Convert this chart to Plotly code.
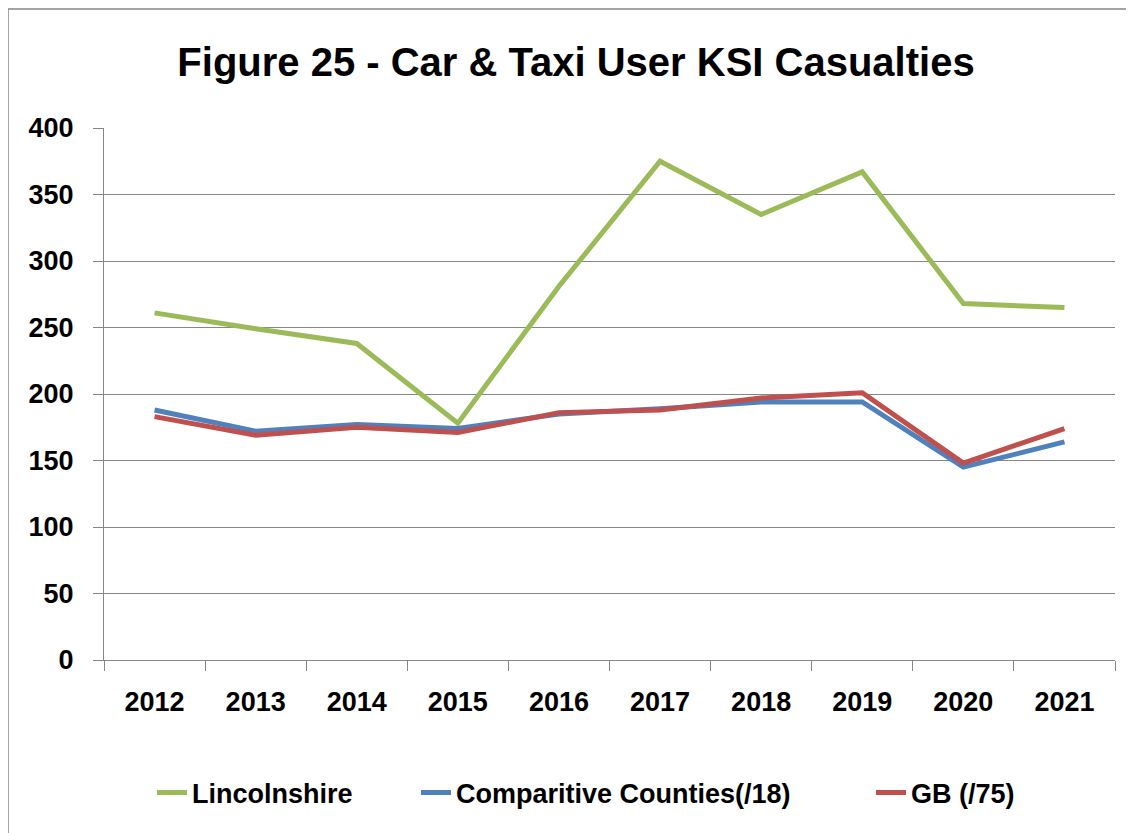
import plotly.graph_objects as go

years = ["2012", "2013", "2014", "2015", "2016", "2017", "2018", "2019", "2020", "2021"]
lincolnshire = [261, 249, 238, 178, 281, 375, 335, 367, 268, 265]
comparative = [188, 172, 177, 174, 185, 189, 194, 194, 145, 164]
gb = [183, 169, 175, 171, 186, 188, 197, 201, 148, 174]

OFF = 8  # page body margin
W, H = 1134 - OFF, 833 - OFF
L, R, T, B = 104 - OFF, 1115 - OFF, 128 - OFF, 660 - OFF

FONT = "Liberation Sans, Arial, sans-serif"
GRID = "#878787"

fig = go.Figure()
fig.add_trace(go.Scatter(x=years, y=lincolnshire, mode="lines", name="<b>Lincolnshire</b>",
                         line=dict(color="#9BBB59", width=5), legend="legend"))
fig.add_trace(go.Scatter(x=years, y=comparative, mode="lines", name="<b>Comparitive Counties(/18)</b>",
                         line=dict(color="#4F81BD", width=5), legend="legend2"))
fig.add_trace(go.Scatter(x=years, y=gb, mode="lines", name="<b>GB (/75)</b>",
                         line=dict(color="#C0504D", width=5), legend="legend3"))

pw, ph = R - L, B - T
fig.add_shape(type="rect", xref="paper", yref="paper",
              x0=(0 - L) / pw, x1=(W + 200 - L) / pw,
              y0=(B - (H + 200)) / ph, y1=(B - 1) / ph,
              line=dict(color="#888888", width=1.5), layer="below")

leg_y = 1 - (793 - OFF) / H


def leg(text_start):
    return dict(orientation="h", x=(text_start - OFF - 42) / W, xref="container", xanchor="left",
                y=leg_y, yref="container", yanchor="middle",
                font=dict(family=FONT, size=27, color="black"),
                bgcolor="rgba(0,0,0,0)")


fig.update_layout(
    width=W, height=H,
    margin=dict(l=L, r=W - R, t=T, b=H - B, pad=0),
    paper_bgcolor="white", plot_bgcolor="white",
    title=dict(text="<b>Figure 25 - Car & Taxi User KSI Casualties</b>",
               x=(576 - OFF) / W, xanchor="center", xref="container",
               y=1 - (62 - OFF) / H, yanchor="middle",
               font=dict(family=FONT, size=40, color="black")),
    showlegend=True,
    legend=leg(194),
    legend2=leg(458),
    legend3=leg(913),
    font=dict(family=FONT, color="black"),
)

fig.update_xaxes(type="category", showgrid=False, showline=True, linecolor=GRID, linewidth=1.3,
                 ticks="outside", tickson="boundaries", ticklen=10, tickcolor=GRID, tickwidth=1.3,
                 tickfont=dict(family=FONT, size=27, color="black"),
                 ticklabelstandoff=17, tickprefix="<b>", ticksuffix="</b>",
                 range=[-0.5, 9.5], fixedrange=True)
fig.update_yaxes(range=[0, 400], dtick=50, showgrid=True, gridcolor=GRID, gridwidth=1.3,
                 showline=True, linecolor=GRID, linewidth=1.3, zeroline=False,
                 ticks="outside", ticklen=10, tickcolor=GRID, tickwidth=1.3,
                 tickfont=dict(family=FONT, size=27, color="black"),
                 ticklabelstandoff=14, tickprefix="<b>", ticksuffix="</b>",
                 fixedrange=True)

fig.write_html("out.html")
